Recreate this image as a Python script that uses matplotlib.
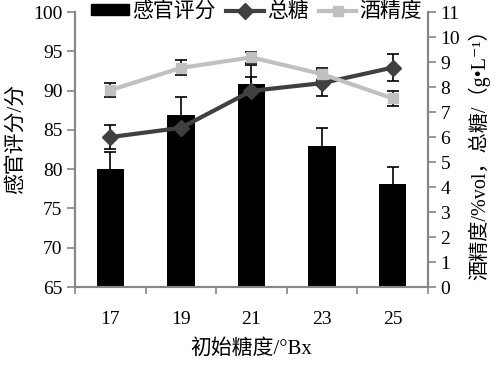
import matplotlib.pyplot as plt
from matplotlib.ticker import MultipleLocator, FixedLocator
from matplotlib.lines import Line2D
from matplotlib.patches import Patch
import numpy as np

plt.rcParams['font.family'] = ['Liberation Serif', 'Noto Sans CJK SC', 'DejaVu Sans']

brix = ['17', '19', '21', '23', '25']
score = [80.0, 86.9, 90.8, 83.0, 78.1]
score_err = [2.2, 2.3, 2.5, 2.3, 2.2]
sugar = [6.0, 6.37, 7.85, 8.16, 8.78]
sugar_err = [0.47, 0.0, 0.55, 0.52, 0.55]
alcohol = [7.88, 8.77, 9.19, 8.52, 7.55]
alcohol_err = [0.28, 0.3, 0.22, 0.25, 0.3]

grey = '#868686'
sugar_c = '#404040'
alc_c = '#c0c0c0'

fig = plt.figure(figsize=(5.04, 3.68), dpi=100)
ax = fig.add_axes([0.149, 0.22, 0.70, 0.747])
ax2 = ax.twinx()

x = np.arange(len(brix))
ax.bar(x, score, width=0.39, color='black', yerr=score_err,
       error_kw=dict(ecolor='black', elinewidth=1.2, capsize=4, capthick=1.2),
       zorder=2)

ax2.errorbar(x, sugar, yerr=sugar_err, color=sugar_c, lw=3, marker='D',
             markersize=8, ecolor='black', elinewidth=1.2, capsize=4,
             capthick=1.2, zorder=3)
ax2.errorbar(x, alcohol, yerr=alcohol_err, color=alc_c, lw=3, marker='s',
             markersize=7, ecolor='black', elinewidth=1.2, capsize=4,
             capthick=1.2, zorder=3)

ax.set_xlim(-0.5, len(brix) - 0.5)
ax.set_ylim(65, 100)
ax2.set_ylim(0, 11)
ax.yaxis.set_major_locator(MultipleLocator(5))
ax2.yaxis.set_major_locator(MultipleLocator(1))

ax.set_xticks(x)
ax.set_xticklabels(brix)
ax.xaxis.set_minor_locator(FixedLocator(np.arange(-0.5, len(brix), 1)))
ax.tick_params(axis='x', which='major', length=0, pad=17, labelsize=14)
ax.tick_params(axis='x', which='minor', length=5, color=grey, width=1.2)
ax.tick_params(axis='y', length=6, color=grey, width=1.2, labelsize=14, pad=3)
ax2.tick_params(axis='y', length=6, color=grey, width=1.2, labelsize=14, pad=3)

for a in (ax, ax2):
    a.spines['top'].set_visible(False)
    for s in ('left', 'right', 'bottom'):
        a.spines[s].set_color(grey)
        a.spines[s].set_linewidth(1.5)

ax.set_xlabel('初始糖度/°Bx', fontsize=15, labelpad=8)
ax.set_ylabel('感官评分/分', fontsize=15, labelpad=4)
ax.yaxis.set_label_coords(-0.14, 0.54)
ax2.set_ylabel('酒精度/%vol，总糖/（g•L⁻¹）', fontsize=14.5, labelpad=6)

handles = [Patch(color='black'),
           Line2D([], [], color=sugar_c, lw=3, marker='D', markersize=8),
           Line2D([], [], color=alc_c, lw=3, marker='s', markersize=7)]
ax2.legend(handles, ['感官评分', '总糖', '酒精度'], ncol=3, loc='center',
           bbox_to_anchor=(0.515, 1.0), frameon=False, fontsize=15,
           handlelength=1.8, handleheight=0.45, handletextpad=0.15,
           columnspacing=0.5, borderaxespad=0, borderpad=0)

fig.savefig('out.png', dpi=100)
